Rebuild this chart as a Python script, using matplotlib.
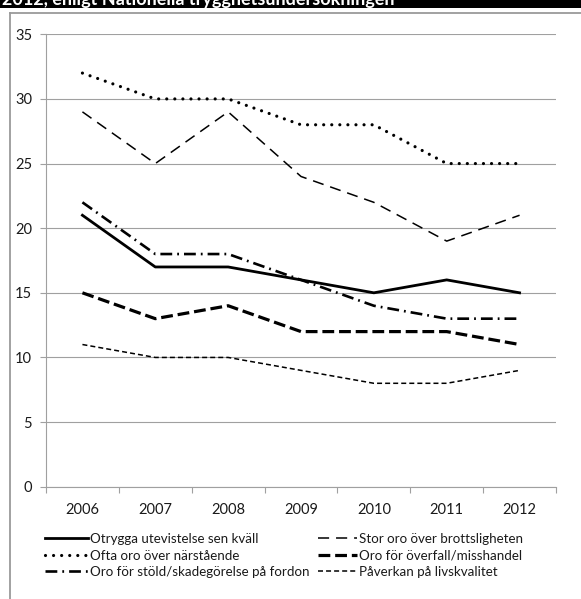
import numpy as np
import matplotlib as mpl
import matplotlib.pyplot as plt
from matplotlib.lines import Line2D
from matplotlib.patches import Rectangle

years = ['2006', '2007', '2008', '2009', '2010', '2011', '2012']

otrygga = [21, 17, 17, 16, 15, 16, 15]
stor_oro = [29, 25, 29, 24, 22, 19, 21]
ofta_oro = [32, 30, 30, 28, 28, 25, 25]
overfall = [15, 13, 14, 12, 12, 12, 11]
stold = [22, 18, 18, 16, 14, 13, 13]
paverkan = [11, 10, 10, 9, 8, 8, 9]

labels = ['Otrygga utevistelse sen kväll', 'Stor oro över brottsligheten',
          'Ofta oro över närstående', 'Oro för överfall/misshandel',
          'Oro för stöld/skadegörelse på fordon', 'Påverkan på livskvalitet']

title = '2012, enligt Nationella trygghetsundersökningen'

# configuration
mpl.rcParams['font.family'] = ['Lato', 'DejaVu Sans']
mpl.rcParams['lines.scale_dashes'] = False
txt_col = '#1a1a1a'
grid_col = '#a0a0a0'

W, H = 581, 599
fig = plt.figure(figsize=(W / 100, H / 100), dpi=100)

# header bar (title cut off at the top, as in the source image) and frame
fig.add_artist(Rectangle((0, 1 - 7.5 / H), 1, 7.5 / H, transform=fig.transFigure,
                         color='black', lw=0))
fig.text(2 / W, 1 - 5.5 / H, title, color='white', fontsize=13, fontweight='bold',
         ha='left', va='baseline')
fig.add_artist(Line2D([10 / W, 1], [1 - 13 / H, 1 - 13 / H], transform=fig.transFigure,
                      color='#9a9a9a', lw=1.3))
fig.add_artist(Line2D([10 / W, 10 / W], [0, 1 - 13 / H], transform=fig.transFigure,
                      color='#9a9a9a', lw=1.3))

ax = fig.add_axes([46 / W, 1 - 486.7 / H, 510 / W, (486.7 - 34.3) / H])
x = np.arange(len(years))

styles = [
    dict(lw=2.0, ls='-'),
    dict(lw=1.1, ls=(0, (8, 5))),
    dict(lw=2.3, ls=(0, (0.01, 5.8)), dash_capstyle='round'),
    dict(lw=2.3, ls=(0, (8.5, 3.5))),
    dict(lw=1.9, ls=(0, (8.5, 3.6, 1.3, 3.6))),
    dict(lw=1.1, ls=(0, (3.6, 2.2))),
]
series = [otrygga, stor_oro, ofta_oro, overfall, stold, paverkan]
handles = []
for vals, st, lab in zip(series, styles, labels):
    h, = ax.plot(x, vals, color='black', label=lab, **st)
    handles.append(h)

ax.set_xlim(-0.5, 6.5)
ax.set_ylim(0, 35)
ax.set_yticks(np.arange(0, 36, 5))
ax.yaxis.grid(True, color=grid_col, lw=0.8)
ax.set_axisbelow(True)
for s in ['top', 'right']:
    ax.spines[s].set_visible(False)
for s in ['left', 'bottom']:
    ax.spines[s].set_color(grid_col)
    ax.spines[s].set_linewidth(0.8)

ax.set_xticks(x)
ax.set_xticklabels(years)
ax.set_xticks(np.arange(-0.5, 7, 1), minor=True)
ax.tick_params(axis='x', which='major', length=0, pad=12, labelsize=10.5, labelcolor=txt_col)
ax.tick_params(axis='x', which='minor', length=4, color=grid_col, width=0.8)
ax.tick_params(axis='y', length=4, color=grid_col, width=0.8, pad=6, labelsize=10.5,
               labelcolor=txt_col)

leg_kw = dict(frameon=False, fontsize=9.6, handletextpad=0.2,
              labelspacing=0.34, borderpad=0, borderaxespad=0, labelcolor=txt_col)
leg1 = fig.legend([handles[0], handles[2], handles[4]], [labels[0], labels[2], labels[4]],
                  loc='upper left', bbox_to_anchor=(45 / W, 1 - 533 / H),
                  handlelength=3.2, **leg_kw)
leg2 = fig.legend([handles[1], handles[3], handles[5]], [labels[1], labels[3], labels[5]],
                  loc='upper left', bbox_to_anchor=(318 / W, 1 - 533 / H),
                  handlelength=2.9, **leg_kw)

plt.savefig('out.png', dpi=100)
